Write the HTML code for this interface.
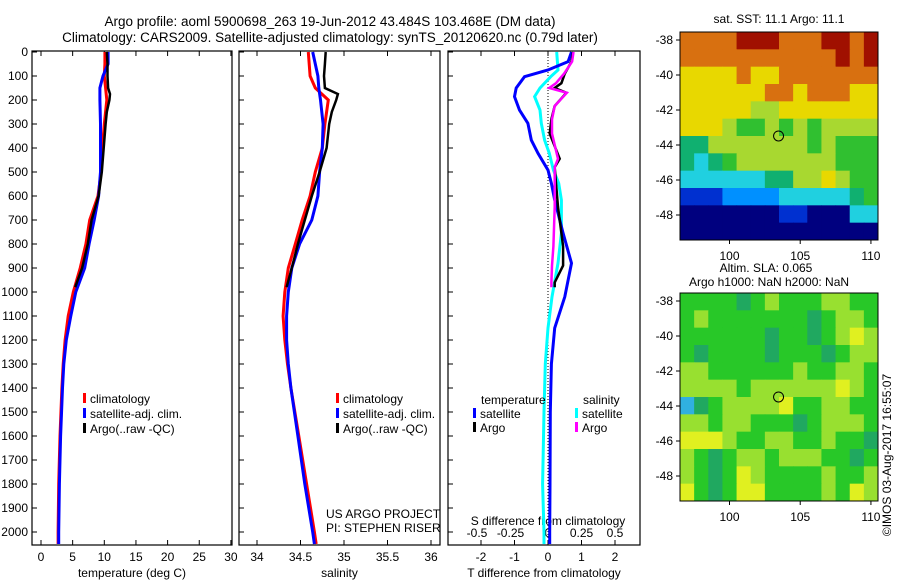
<!DOCTYPE html>
<html><head><meta charset="utf-8">
<style>
body{margin:0;background:#fff;}
svg{display:block;font-family:"Liberation Sans",sans-serif;}
text{font-size:12px;fill:#000;}
</style></head><body>
<svg id="fig" width="900" height="580" viewBox="0 0 900 580">
<text x="330" y="26" text-anchor="middle" style="font-size:13.5px">Argo profile: aoml 5900698_263 19-Jun-2012 43.484S 103.468E (DM data)</text>
<text x="330" y="42" text-anchor="middle" style="font-size:13.5px">Climatology: CARS2009. Satellite-adjusted climatology: synTS_20120620.nc (0.79d later)</text>
<g id="g"></g>
</svg>
<script>
// ---- data ----
const depthClim=[0,50,100,150,200,300,400,500,600,700,800,900,1000,1100,1200,1300,1400,1600,1800,2000,2050];
const tempClim=[10.1,10.1,10.0,10.2,10.4,10.0,9.7,9.5,9.0,7.7,7.1,6.2,5.1,4.3,3.8,3.5,3.3,3.0,2.8,2.7,2.7];
const tempSat=[10.6,10.6,9.8,9.3,9.3,9.4,9.4,9.4,9.1,8.4,7.6,6.9,5.5,4.7,4.0,3.6,3.4,3.1,2.9,2.8,2.8];
const depthArgo=[0,50,100,150,175,200,250,300,400,500,600,700,800,900,980];
const tempArgo=[10.4,10.5,10.5,10.6,10.9,10.8,10.4,10.2,9.9,9.6,9.1,8.0,7.4,6.5,5.4];
const salClim=[34.59,34.60,34.61,34.67,34.82,34.78,34.75,34.67,34.61,34.52,34.44,34.36,34.32,34.30,34.32,34.35,34.39,34.48,34.57,34.66,34.68];
const salSat=[34.64,34.67,34.70,34.71,34.73,34.76,34.75,34.72,34.70,34.63,34.49,34.40,34.36,34.34,34.34,34.36,34.39,34.47,34.55,34.64,34.66];
const salArgo=[34.79,34.78,34.77,34.78,34.93,34.91,34.86,34.83,34.80,34.72,34.63,34.55,34.47,34.40,34.34];
const depthDiff=[0,40,75,103,150,186,242,297,367,422,492,547,617,755,880,1020,1150,1300,1500,1800,2000,2050];
const tDiffSat=[0.7,0.6,0.0,-0.7,-0.95,-1.0,-0.85,-0.6,-0.5,-0.3,0.0,0.1,0.2,0.45,0.7,0.5,0.2,0.1,0.07,0.06,0.05,0.05];
const sDiffSat=[0.065,0.07,0.075,0.02,-0.06,-0.1,-0.06,-0.05,-0.025,0.01,0.04,0.08,0.1,0.1,0.075,0.03,0.0,-0.02,-0.03,-0.04,-0.03,-0.03];
const depthDiffArgo=[0,40,90,130,150,170,225,280,340,445,480,645,810,890,960,980];
const tDiffArgo=[0.75,0.7,0.5,0.4,0.2,0.55,0.2,0.1,0.05,0.35,0.2,0.3,0.45,0.45,0.2,0.2];
const sDiffArgo=[0.19,0.18,0.12,0.06,0.01,0.14,0.05,0.03,0.03,0.075,0.05,0.05,0.04,0.03,0.025,0.025];
const depthTicks=[0,100,200,300,400,500,600,700,800,900,1000,1100,1200,1300,1400,1500,1600,1700,1800,1900,2000];
const tempTicks=[0,5,10,15,20,25,30];
const salTicks=[34,34.5,35,35.5,36];
const tdTicks=[-2,-1,0,1,2];
const sdTicks=[-0.5,-0.25,0,0.25,0.5];
const lonTicks=[100,105,110];
const latTicks=[-38,-40,-42,-44,-46,-48];
const sstGrid=["88889998889989","88888888888989","77778778888888","77777788788877","77777667777777","77765565656666","44666666656555","43456666666555","33333344667655","11122223333345","00000001100033","00000000000000"];
const slaGrid=["55554565556655","56555555545665","55555545545676","54555545554566","66555555655665","66665666666765","34566667556655","66566555456665","77765566556554","65456656665545","65457655556556","75457755556576"];
const floatLon=103.468, floatLat=-43.484;

const NS="http://www.w3.org/2000/svg";
const g=document.getElementById('g');
function el(t,a,p){const e=document.createElementNS(NS,t);for(const k in a)e.setAttribute(k,a[k]);(p||g).appendChild(e);return e;}
const pTop=51,pBot=545;
const yD=d=>52+d*0.24;
const xT=v=>41+v*6.33;
const xS=v=>257+(v-34)*87;
const xTd=v=>548+v*33.5;
const xSd=v=>548+v*134;
function txt(x,y,s,anchor,name,extra){const t=el('text',Object.assign({x:x,y:y,'text-anchor':anchor||'start'},extra||{}));t.textContent=s;return t;}
function panel(x0,x1,name,xt,xf,labels,title){
  const f=el('rect',{x:x0,y:pTop,width:x1-x0,height:pBot-pTop,fill:'none',stroke:'#000','stroke-width':1.2});
  
  depthTicks.forEach(d=>{el('line',{x1:x0,x2:x0+5,y1:yD(d),y2:yD(d),stroke:'#000'});});
  xt.forEach((v,i)=>{const x=xf(v);el('line',{x1:x,x2:x,y1:pBot,y2:pBot-5,stroke:'#000'});el('line',{x1:x,x2:x,y1:pTop,y2:pTop+5,stroke:'#000'});
    if(labels)txt(x,561,labels[i],'middle',name+'-x-tick-label');});
  txt((x0+x1)/2,577,title,'middle',name+'-x-axis-title');
}
function line(xs,ds,xf,col,name,w){
  const p=xs.map((v,i)=>xf(v).toFixed(1)+','+yD(ds[i]).toFixed(1)).join(' ');
  const l=el('polyline',{points:p,fill:'none',stroke:col,'stroke-width':w||3,'stroke-linejoin':'miter'});
  
}
depthTicks.forEach(d=>txt(28,yD(d)+4,String(d),'end','depth-tick-label'));
panel(32,232,'temperature-panel',tempTicks,xT,tempTicks.map(String),'temperature (deg C)');
line(tempClim,depthClim,xT,'#ff0000','temp-climatology-line');
line(tempSat,depthClim,xT,'#0000ff','temp-satellite-line');
line(tempArgo,depthArgo,xT,'#000','temp-argo-line',2.5);
panel(239,440,'salinity-panel',salTicks,xS,['34','34.5','35','35.5','36'],'salinity');
line(salClim,depthClim,xS,'#ff0000','sal-climatology-line');
line(salSat,depthClim,xS,'#0000ff','sal-satellite-line');
line(salArgo,depthArgo,xS,'#000','sal-argo-line',2.5);
panel(448,640,'difference-panel',tdTicks,xTd,['-2','-1','0','1','2'],'T difference from climatology');
el('line',{x1:548,x2:548,y1:pTop,y2:pBot,stroke:'#000','stroke-dasharray':'1,2'});
sdTicks.forEach((v,i)=>txt(xSd(v)-(i<2?4:0),537,['-0.5','-0.25','0','0.25','0.5'][i],'middle','s-diff-tick-label'));
txt(548,525,'S difference from climatology','middle','s-diff-axis-title');
line(sDiffSat,depthDiff,xSd,'#00ffff','sal-diff-satellite-line');
line(tDiffSat,depthDiff,xTd,'#0000ff','temp-diff-satellite-line');
line(tDiffArgo,depthDiffArgo,xTd,'#000','temp-diff-argo-line',2.5);
line(sDiffArgo,depthDiffArgo,xSd,'#ff00ff','sal-diff-argo-line',2.5);
function leg(x,y,col,s,name){el('rect',{x:x,y:y-10,width:3,height:10,fill:col});txt(x+7,y,s,'start',name);}
leg(83,403,'#ff0000','climatology','legend-climatology');
leg(83,418,'#0000ff','satellite-adj. clim.','legend-satellite');
leg(83,433,'#000','Argo(..raw -QC)','legend-argo');
leg(336,403,'#ff0000','climatology','legend2-climatology');
leg(336,418,'#0000ff','satellite-adj. clim.','legend2-satellite');
leg(336,433,'#000','Argo(..raw -QC)','legend2-argo');
txt(481,404,'temperature','start','legend-temperature-header');
txt(583,404,'salinity','start','legend-salinity-header');
leg(473,418,'#0000ff','satellite','legend-t-satellite');
leg(473,432,'#000','Argo','legend-t-argo');
leg(575,418,'#00ffff','satellite','legend-s-satellite');
leg(575,432,'#ff00ff','Argo','legend-s-argo');
txt(326,518,'US ARGO PROJECT','start','project-label');
txt(326,532,'PI: STEPHEN RISER','start','pi-label');
const sstCols=['#00007f','#0030d0','#0090ff','#20d0e0','#10b070','#30c030','#a8d830','#e8d800','#d87010','#a01000'];
const slaCols=['#00007f','#0030d0','#0090ff','#30b0e0','#20a860','#28c828','#98e030','#e0f020','#e08000','#a01000'];
const mx0=680,mx1=878,lon0=96.5,lon1=110.5;
const xL=l=>mx0+(l-lon0)*(mx1-mx0)/(lon1-lon0);
function map(y0,grid,cols,name){
  const yLat=la=>y0+8+(-38-la)*17.5;
  const cw=(mx1-mx0)/14,ch=208/12;
  grid.forEach((row,r)=>{[...row].forEach((c,k)=>{const cell=el('rect',{x:mx0+k*cw,y:y0+r*ch,width:cw+0.5,height:ch+0.5,fill:cols[+c]});
    });});
  const f=el('rect',{x:mx0,y:y0,width:mx1-mx0,height:208,fill:'none',stroke:'#000'});
  
  latTicks.forEach(la=>{el('line',{x1:mx0-4,x2:mx0,y1:yLat(la),y2:yLat(la),stroke:'#000'});txt(mx0-7,yLat(la)+4,String(la),'end',name+'-lat-label');});
  lonTicks.forEach(lo=>{el('line',{x1:xL(lo),x2:xL(lo),y1:y0+208,y2:y0+212,stroke:'#000'});txt(xL(lo),y0+228,String(lo),'middle',name+'-lon-label');});
  const m=el('circle',{cx:xL(floatLon),cy:yLat(floatLat),r:5,fill:'none',stroke:'#000'});
  
}
map(32,sstGrid,sstCols,'sst-map');
map(293,slaGrid,slaCols,'sla-map');
txt(779,23,'sat. SST: 11.1 Argo: 11.1','middle','sst-map-title');
txt(766,272,'Altim. SLA: 0.065','middle','sla-map-title-1');
txt(769,286,'Argo h1000: NaN h2000: NaN','middle','sla-map-title-2');
txt(0,0,'©IMOS 03-Aug-2017 16:55:07','middle','copyright-stamp',{transform:'translate(891,455) rotate(-90)'});
</script>
</body></html>
